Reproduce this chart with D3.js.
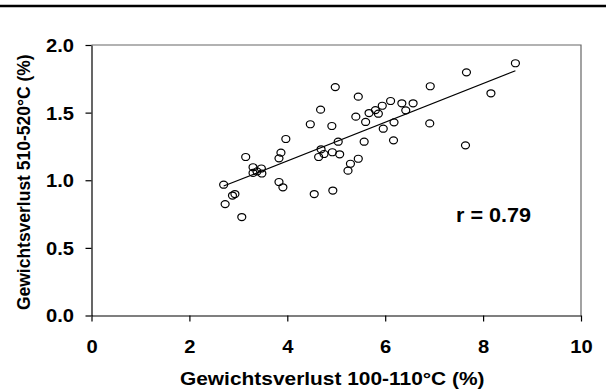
<!DOCTYPE html>
<html>
<head>
<meta charset="utf-8">
<script src="https://cdn.jsdelivr.net/npm/d3@7"></script>
<style>
  html, body { margin: 0; padding: 0; background: #fff; }
  svg { display: block; font-family: "Liberation Sans", Arial, sans-serif; }
</style>
</head>
<body>
<script>
// ---- data ----
const xValues = [2.70, 2.88, 2.93, 2.73, 3.07, 3.15, 3.30, 3.47, 3.30, 3.38, 3.48, 3.87, 3.83, 3.97, 3.83, 3.91,
  4.55, 4.93, 4.47, 4.68, 4.98, 4.91, 4.69, 4.64, 4.75, 4.92, 5.04, 5.07, 5.24, 5.29, 5.45, 5.57, 5.40, 5.45,
  5.60, 5.67, 5.80, 5.86, 5.94, 6.11, 5.96, 6.18, 6.17, 6.34, 6.57, 6.42, 6.92, 6.91, 7.64, 7.66, 8.16, 8.66];
const yValues = [0.967, 0.887, 0.898, 0.824, 0.728, 1.172, 1.096, 1.087, 1.054, 1.065, 1.050, 1.204, 1.162, 1.305, 0.987, 0.948,
  0.898, 0.924, 1.414, 1.522, 1.689, 1.401, 1.229, 1.172, 1.194, 1.207, 1.285, 1.192, 1.071, 1.122, 1.159, 1.285, 1.470, 1.618,
  1.431, 1.497, 1.519, 1.492, 1.551, 1.586, 1.381, 1.428, 1.295, 1.569, 1.569, 1.517, 1.695, 1.420, 1.258, 1.798, 1.643, 1.865];
const regression = { intercept: 0.571, slope: 0.143 };
const regressionRange = [2.70, 8.66];
const xTicks = [0, 2, 4, 6, 8, 10];
const yTicks = [0.0, 0.5, 1.0, 1.5, 2.0];
const xTitle = "Gewichtsverlust 100-110°C (%)";
const yTitle = "Gewichtsverlust 510-520°C (%)";
const rLabel = "r = 0.79";

// ---- layout ----
const W = 606, H = 392;
const L = 91.5, R = 581, T = 45, B = 315.5;
const SX = 1.12; // horizontal stretch of the original artwork

const svg = d3.select("body").append("svg").attr("width", W).attr("height", H);

// top rule
svg.append("line").attr("x1", 0).attr("x2", W).attr("y1", 6).attr("y2", 6)
  .attr("stroke", "#000").attr("stroke-width", 2.5);

const x = d3.scaleLinear().domain([0, 10]).range([L, R]);
const y = d3.scaleLinear().domain([0, 2]).range([B, T]);

// frame top/right (grey)
svg.append("path").attr("d", `M${L},${T}H${R}V${B}`).attr("fill", "none")
  .attr("stroke", "#666").attr("stroke-width", 1.2);

const tickFont = 18;
// x axis
const gx = svg.append("g").attr("transform", `translate(0,${B})`)
  .call(d3.axisBottom(x).tickValues(xTicks).tickFormat(d3.format("d")).tickSize(6).tickSizeOuter(0));
// y axis
const gy = svg.append("g").attr("transform", `translate(${L},0)`)
  .call(d3.axisLeft(y).tickValues(yTicks).tickFormat(d3.format(".1f")).tickSize(6).tickSizeOuter(0));

[gx, gy].forEach(g => {
  g.select(".domain").attr("stroke", "#000").attr("stroke-width", 1.2);
  g.selectAll(".tick line").attr("stroke", "#000").attr("stroke-width", 1.2);
  g.selectAll(".tick text").attr("fill", "#000").attr("font-size", tickFont)
    .attr("font-weight", "bold").attr("font-family", "Liberation Sans, Arial, sans-serif")
    .attr("transform", `scale(${SX},1)`);
});
gx.selectAll(".tick text").attr("dy", null).attr("y", 38);
gy.selectAll(".tick text").attr("x", -17.5 / SX).attr("dy", "0.36em");

// titles
svg.append("text").attr("transform", `translate(${(L + R) / 2 - 4},385) scale(1.1,1)`).attr("text-anchor", "middle")
  .attr("font-size", 19).attr("font-weight", "bold").text(xTitle);
svg.append("text").attr("transform", `translate(30,${(T + B) / 2 + 2}) scale(1.1,1) rotate(-90)`).attr("text-anchor", "middle")
  .attr("font-size", 17.5).attr("font-weight", "bold").text(yTitle);

// regression line
svg.append("line")
  .attr("x1", x(regressionRange[0])).attr("y1", y(regression.intercept + regression.slope * regressionRange[0]))
  .attr("x2", x(regressionRange[1])).attr("y2", y(regression.intercept + regression.slope * regressionRange[1]))
  .attr("stroke", "#000").attr("stroke-width", 1.2);

// points
const pts = xValues.map((v, i) => ({ x: v, y: yValues[i] }));
svg.append("g").selectAll("ellipse").data(pts).join("ellipse")
  .attr("cx", d => x(d.x)).attr("cy", d => y(d.y))
  .attr("rx", 4).attr("ry", 3.5)
  .attr("fill", "none").attr("stroke", "#000").attr("stroke-width", 1.2);

// r label
svg.append("text").attr("transform", "translate(456,222) scale(1.08,1)")
  .attr("font-size", 20).attr("font-weight", "bold").text(rLabel);
</script>
</body>
</html>
